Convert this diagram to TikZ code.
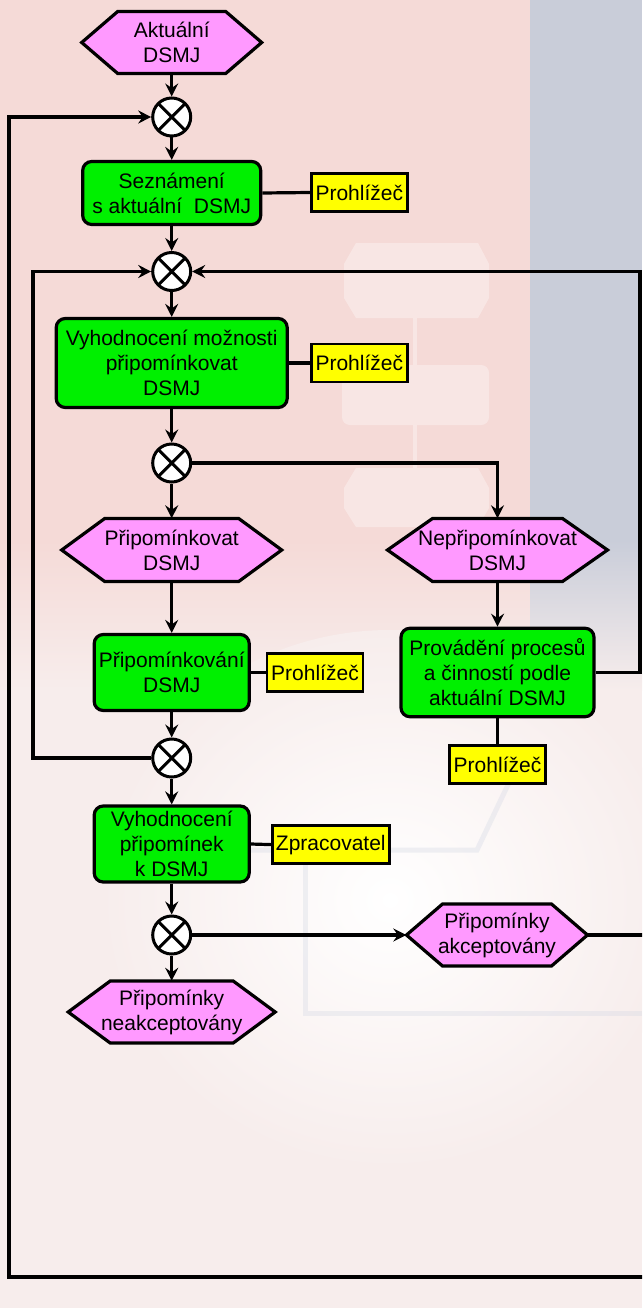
\documentclass[tikz,border=0pt]{standalone}
\usepackage{fontspec}
\setmainfont{Liberation Sans}
\usetikzlibrary{arrows.meta,calc}

\definecolor{bgtop}{HTML}{F5DAD7}
\definecolor{bgblue}{HTML}{C9CDD9}
\definecolor{bglow}{HTML}{F7EDEC}
\definecolor{ghostline}{HTML}{D3D8E4}
\definecolor{hexpink}{HTML}{FF99FF}
\definecolor{actgreen}{HTML}{00F000}
\definecolor{roleyellow}{HTML}{FFFF00}

\tikzset{
  txt/.style={font=\fontsize{21}{25}\selectfont, align=center, inner sep=0pt, text=black},
  activity/.style={txt, draw, line width=3.2pt, fill=actgreen, rounded corners=9pt},
  role/.style={txt, draw, line width=2.8pt, fill=roleyellow},
  hexlabel/.style={txt, draw=none, rectangle},
  hexline/.style={draw, line width=3.2pt, fill=hexpink, line join=miter},
  gate/.style={circle, draw, line width=3pt, fill=white, minimum size=38pt, inner sep=0pt,
    path picture={\draw[line width=3pt]
      (path picture bounding box.north west) -- (path picture bounding box.south east)
      (path picture bounding box.north east) -- (path picture bounding box.south west);}},
  flow/.style={line width=3.2pt, -{Stealth[length=13pt,width=13pt,inset=4.5pt]}},
  link/.style={line width=3.2pt},
  ghost/.style={fill=white, opacity=0.35},
}

% hexagonal event: name, x, y, half width, half height, point depth, text
\newcommand{\eventhex}[7]{%
  \path[hexline] ({#2-#4},#3) -- ({#2-#4+#6},{#3-#5}) -- ({#2+#4-#6},{#3-#5})
    -- ({#2+#4},#3) -- ({#2+#4-#6},{#3+#5}) -- ({#2-#4+#6},{#3+#5}) -- cycle;
  \node[hexlabel, minimum width={2*#4pt}, minimum height={2*#5pt}] (#1) at (#2,#3) {#7};
}

\begin{document}
\begin{tikzpicture}[x=1pt, y=-1pt]
  \useasboundingbox (0,0) rectangle (642,1308);
  \clip (0,0) rectangle (642,1308);

  % backdrop
  \fill[bglow] (0,0) rectangle (642,1308);
  \fill[bgtop] (0,0) rectangle (530,540);
  \shade[top color=bgtop, bottom color=bglow] (0,540) rectangle (530,690);
  \fill[bgblue] (530,0) rectangle (642,540);
  \shade[top color=bgblue, bottom color=bglow] (530,540) rectangle (642,690);
  \shade[inner color=white, outer color=bglow] (390,900) ellipse [x radius=290pt, y radius=270pt];
  \fill[ghost] (356,243) -- (478,243) -- (489,264) -- (489,298) -- (478,318) -- (356,318)
    -- (344,298) -- (344,264) -- cycle;
  \fill[ghost, rounded corners=8pt] (342,365) rectangle (489,425);
  \fill[ghost] (356,468) -- (478,468) -- (489,488) -- (489,508) -- (478,527) -- (356,527)
    -- (344,508) -- (344,488) -- cycle;
  \draw[white, opacity=0.35, line width=4pt] (415,318) -- (415,365) (415,425) -- (415,468);
  \draw[ghostline, opacity=0.35, line width=5pt] (515,770) -- (477,850) -- (250,850);
  \draw[ghostline, opacity=0.35, line width=5pt] (305,850) -- (305,1013) -- (642,1013);

  % events
  \eventhex{aktualni}{171.7}{42.5}{90}{31}{36}{Aktuální\\DSMJ}
  \eventhex{pripominkovat}{171.7}{550}{110}{31.5}{43}{Připomínkovat\\DSMJ}
  \eventhex{nepripominkovat}{497.5}{550}{110}{31.5}{45}{Nepřipomínkovat\\DSMJ}
  \eventhex{akceptovany}{497}{935}{90.5}{31}{36}{Připomínky\\akceptovány}
  \eventhex{neakceptovany}{171.7}{1012}{103.5}{31}{42}{Připomínky\\neakceptovány}

  % activities
  \node[activity, minimum width=178pt, minimum height=63pt] (seznameni) at (171.7,193)
    {Seznámení\\s aktuální\ \ DSMJ};
  \node[activity, minimum width=231pt, minimum height=89pt] (moznost) at (171.7,363)
    {Vyhodnocení možnosti\\připomínkovat\\DSMJ};
  \node[activity, minimum width=155pt, minimum height=76pt] (pripominkovani) at (171.7,672.5)
    {Připomínkování\\DSMJ};
  \node[activity, minimum width=193pt, minimum height=88.5pt] (provadeni) at (497.5,672.5)
    {Provádění procesů\\a činností podle\\aktuální DSMJ};
  \node[activity, minimum width=155pt, minimum height=76pt] (vyhodnoceni) at (171.7,844)
    {Vyhodnocení\\připomínek\\k DSMJ};

  % roles
  \node[role, minimum width=96pt, minimum height=38pt] (r1) at (359.3,192.5) {Prohlížeč};
  \node[role, minimum width=96pt, minimum height=38pt] (r2) at (359.3,363) {Prohlížeč};
  \node[role, minimum width=96pt, minimum height=38pt] (r3) at (315,672.5) {Prohlížeč};
  \node[role, minimum width=96pt, minimum height=38pt] (r4) at (497.5,764.4) {Prohlížeč};
  \node[role, minimum width=117pt, minimum height=38pt] (r5) at (330.8,844.6) {Zpracovatel};

  % XOR connectors
  \node[gate] (g1) at (171.7,117) {};
  \node[gate] (g2) at (171.7,271.5) {};
  \node[gate] (g3) at (171.7,463) {};
  \node[gate] (g4) at (171.7,758) {};
  \node[gate] (g5) at (171.7,935) {};

  % rails of the loops
  \coordinate (leftrail) at (33,500);
  \coordinate (rightrail) at (640,450);
  \coordinate (outerR) at (652,1277);
  \coordinate (outerL) at (9,1277);

  % main flow
  \draw[flow] (aktualni) -- (g1);
  \draw[flow] (g1) -- (seznameni);
  \draw[flow] (seznameni) -- (g2);
  \draw[flow] (g2) -- (moznost);
  \draw[flow] (moznost) -- (g3);
  \draw[flow] (g3) -- (pripominkovat);
  \draw[flow] (g3.east) -| (nepripominkovat.north);
  \draw[flow] (pripominkovat) -- (pripominkovani);
  \draw[flow] (nepripominkovat) -- (provadeni);
  \draw[flow] (pripominkovani) -- (g4);
  \draw[flow] (g4) -- (vyhodnoceni);
  \draw[flow] (vyhodnoceni) -- (g5);
  \draw[flow] (g5) -- (neakceptovany);
  \draw[flow] (g5.east) -- (akceptovany.west);

  % loops
  \draw[flow] (g4.west) -| (leftrail) |- (g2.west);
  \draw[flow] (provadeni.east) -| (rightrail) |- (g2.east);
  \draw[flow] (akceptovany.east) -| (outerR) -- (outerL) |- (g1.west);

  % role links
  \draw[link] (seznameni.east) -- (r1.west);
  \draw[link] (moznost.east) -- (r2.west);
  \draw[link] (pripominkovani.east) -- (r3.west);
  \draw[link] (provadeni.south) -- (r4.north);
  \draw[link] (vyhodnoceni.east) -- (r5.west);
\end{tikzpicture}
\end{document}
